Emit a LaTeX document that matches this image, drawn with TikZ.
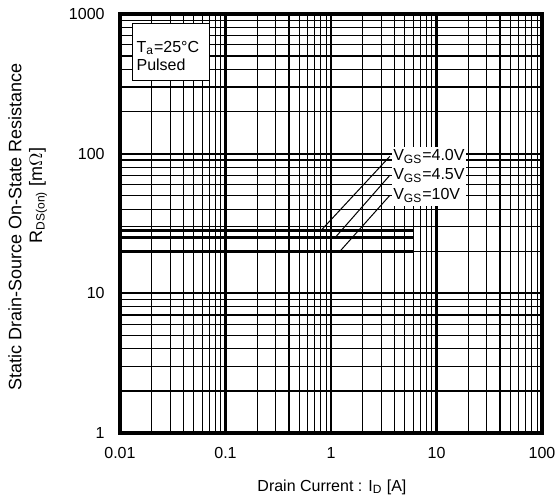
\documentclass[tikz,border=0pt]{standalone}
\usepackage{fontspec}
\setmainfont{Liberation Sans}
\begin{document}
\begin{tikzpicture}[x=52.75pt, y=69.85pt, every node/.style={font=\fontsize{8}{9}\selectfont, inner sep=0pt}]
    \useasboundingbox[fill=white] (-1.137,-0.4868) rectangle (4.123,3.0995);

    % Gitter - Nebenlinien
    \foreach \d in {0,1,2,3}
        \foreach \k in {2,...,9}
            \draw[line width=0.55pt] ({\d+log10(\k)},0) -- ({\d+log10(\k)},3);
    \foreach \d in {0,1,2}
        \foreach \k in {2,...,9}
            \draw[line width=0.55pt] (0,{\d+log10(\k)}) -- (4,{\d+log10(\k)});

    % Gitter - Dekaden
    \foreach \d in {1,2,3}
        \draw[line width=1.1pt] (\d,0) -- (\d,3);
    \foreach \d in {1,2}
        \draw[line width=1.1pt] (0,\d) -- (4,\d);

    % Rahmen
    \draw[line width=2pt] (0,0) rectangle (4,3);

    % Kennlinien (bis 6 A)
    \draw[line width=1.6pt] (0,{log10(28)}) -- ({2+log10(6)},{log10(28)});
    \draw[line width=1.6pt] (0,{log10(25)}) -- ({2+log10(6)},{log10(25)});
    \draw[line width=1.6pt] (0,{log10(20)}) -- ({2+log10(6)},{log10(20)});

    % Bedingungen
    \node[draw, line width=0.5pt, fill=white, anchor=north west, minimum width=38.7pt, minimum height=28.6pt,
          inner xsep=2.2pt, text width=34.3pt, align=left] (cond) at (0.111,2.937) {\rule{0pt}{10pt}T\textsubscript{a}=25°C\\Pulsed};

    % Beschriftung der Kennlinien
    \node[fill=white, anchor=north west, minimum width=37pt, minimum height=9.3pt, inner xsep=0.5pt, text width=36pt, align=left] (vgsA) at (2.577,2.05) {V\textsubscript{GS}=4.0V};
    \node[fill=white, anchor=north west, minimum width=37pt, minimum height=9.8pt, inner xsep=0.5pt, text width=36pt, align=left] (vgsB) at ([yshift=0.5pt]vgsA.south west) {V\textsubscript{GS}=4.5V};
    \node[fill=white, anchor=north west, minimum width=37pt, minimum height=10.5pt, inner xsep=0.5pt, text width=36pt, align=left] (vgsC) at ([yshift=0.5pt]vgsB.south west) {V\textsubscript{GS}=10V};

    \coordinate (pA) at (1.902,{log10(28)});
    \coordinate (pB) at (2.038,{log10(25)});
    \coordinate (pC) at (2.085,{log10(20)});
    \draw[line width=0.5pt] (pA) -- ([xshift=-1pt]vgsA.west);
    \draw[line width=0.5pt] (pB) -- ([xshift=-1pt]vgsB.west);
    \draw[line width=0.5pt] (pC) -- ([xshift=-1pt]vgsC.west);

    % Achsenbeschriftung y
    \node[anchor=east] (y0) at (-0.142,0) {1};
    \node[anchor=east] (y1) at (-0.142,1) {10};
    \node[anchor=east] (y2) at (-0.142,2) {100};
    \node[anchor=east] (y3) at (-0.142,3) {1000};

    % Achsenbeschriftung x
    \node (x0) at (0,-0.143) {0.01};
    \node (x1) at (1,-0.143) {0.1};
    \node (x2) at (2,-0.143) {1};
    \node (x3) at (3,-0.143) {10};
    \node (x4) at (4,-0.143) {100};

    % Achsentitel
    \node (xtitle) at (2.009,-0.3866) {Drain Current : I\textsubscript{D} [A]};
    \node[rotate=90, font=\fontsize{9}{10}\selectfont] (ytitleA) at (-0.995,1.475) {Static Drain-Source On-State Resistance};
    \node[rotate=90, font=\fontsize{9}{10}\selectfont] (ytitleB) at (-0.777,1.70) {R\textsubscript{DS(on)} [m$\Omega$]};
\end{tikzpicture}
\end{document}
